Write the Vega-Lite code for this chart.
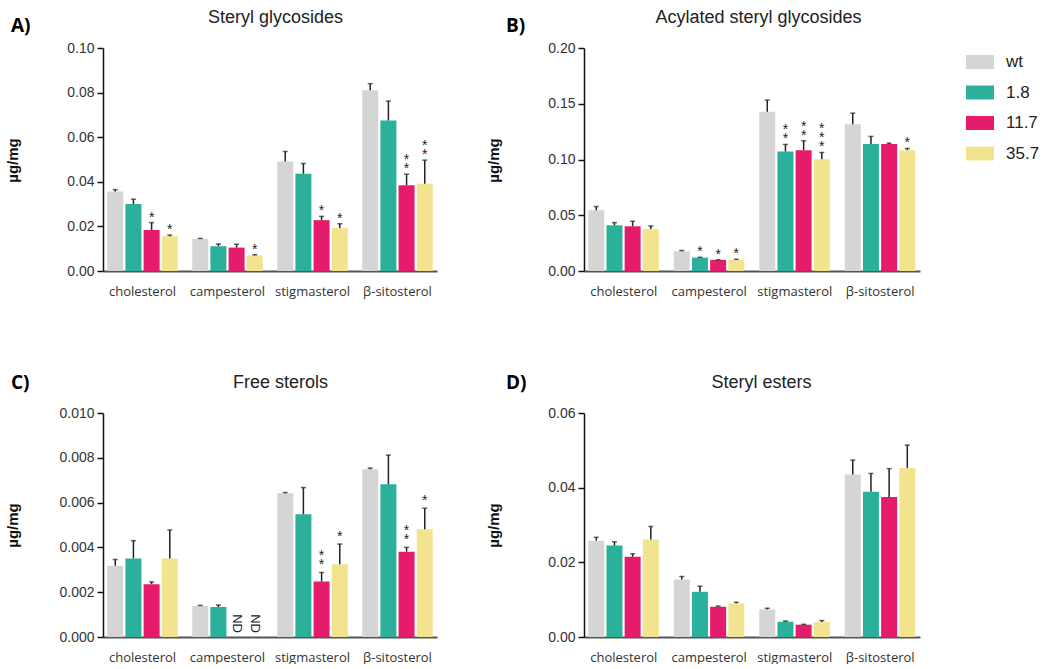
{
  "$schema": "https://vega.github.io/schema/vega-lite/v6.json",
  "background": "white",
  "padding": {"left": 5, "top": 8, "right": 5, "bottom": 0},
  "bounds": "flush",
  "columns": 2,
  "spacing": {"row": 142, "column": 147},
  "datasets": {
    "sg": [
      {"sterol": "cholesterol", "line": "wt", "mean": 0.0356, "upper": 0.0365, "stars": 0},
      {"sterol": "cholesterol", "line": "1.8", "mean": 0.0301, "upper": 0.0322, "stars": 0},
      {"sterol": "cholesterol", "line": "11.7", "mean": 0.0184, "upper": 0.0217, "stars": 1},
      {"sterol": "cholesterol", "line": "35.7", "mean": 0.0156, "upper": 0.0161, "stars": 1},
      {"sterol": "campesterol", "line": "wt", "mean": 0.0144, "upper": 0.0146, "stars": 0},
      {"sterol": "campesterol", "line": "1.8", "mean": 0.0111, "upper": 0.0121, "stars": 0},
      {"sterol": "campesterol", "line": "11.7", "mean": 0.0105, "upper": 0.0120, "stars": 0},
      {"sterol": "campesterol", "line": "35.7", "mean": 0.0070, "upper": 0.0073, "stars": 1},
      {"sterol": "stigmasterol", "line": "wt", "mean": 0.0491, "upper": 0.0536, "stars": 0},
      {"sterol": "stigmasterol", "line": "1.8", "mean": 0.0436, "upper": 0.0482, "stars": 0},
      {"sterol": "stigmasterol", "line": "11.7", "mean": 0.0228, "upper": 0.0245, "stars": 1},
      {"sterol": "stigmasterol", "line": "35.7", "mean": 0.0193, "upper": 0.0212, "stars": 1},
      {"sterol": "β-sitosterol", "line": "wt", "mean": 0.0810, "upper": 0.0840, "stars": 0},
      {"sterol": "β-sitosterol", "line": "1.8", "mean": 0.0675, "upper": 0.0762, "stars": 0},
      {"sterol": "β-sitosterol", "line": "11.7", "mean": 0.0385, "upper": 0.0434, "stars": 2},
      {"sterol": "β-sitosterol", "line": "35.7", "mean": 0.0391, "upper": 0.0497, "stars": 2}
    ],
    "asg": [
      {"sterol": "cholesterol", "line": "wt", "mean": 0.0545, "upper": 0.0578, "stars": 0},
      {"sterol": "cholesterol", "line": "1.8", "mean": 0.0410, "upper": 0.0434, "stars": 0},
      {"sterol": "cholesterol", "line": "11.7", "mean": 0.0401, "upper": 0.0446, "stars": 0},
      {"sterol": "cholesterol", "line": "35.7", "mean": 0.0377, "upper": 0.0404, "stars": 0},
      {"sterol": "campesterol", "line": "wt", "mean": 0.0177, "upper": 0.0184, "stars": 0},
      {"sterol": "campesterol", "line": "1.8", "mean": 0.0120, "upper": 0.0123, "stars": 1},
      {"sterol": "campesterol", "line": "11.7", "mean": 0.0099, "upper": 0.0101, "stars": 1},
      {"sterol": "campesterol", "line": "35.7", "mean": 0.0099, "upper": 0.0105, "stars": 1},
      {"sterol": "stigmasterol", "line": "wt", "mean": 0.1428, "upper": 0.1533, "stars": 0},
      {"sterol": "stigmasterol", "line": "1.8", "mean": 0.1072, "upper": 0.1135, "stars": 2},
      {"sterol": "stigmasterol", "line": "11.7", "mean": 0.1084, "upper": 0.1168, "stars": 2},
      {"sterol": "stigmasterol", "line": "35.7", "mean": 0.1003, "upper": 0.1063, "stars": 3},
      {"sterol": "β-sitosterol", "line": "wt", "mean": 0.1317, "upper": 0.1416, "stars": 0},
      {"sterol": "β-sitosterol", "line": "1.8", "mean": 0.1138, "upper": 0.1207, "stars": 0},
      {"sterol": "β-sitosterol", "line": "11.7", "mean": 0.1138, "upper": 0.1147, "stars": 0},
      {"sterol": "β-sitosterol", "line": "35.7", "mean": 0.1084, "upper": 0.1099, "stars": 1}
    ],
    "fs": [
      {"sterol": "cholesterol", "line": "wt", "mean": 0.00318, "upper": 0.00346, "stars": 0, "nd": ""},
      {"sterol": "cholesterol", "line": "1.8", "mean": 0.00351, "upper": 0.00430, "stars": 0, "nd": ""},
      {"sterol": "cholesterol", "line": "11.7", "mean": 0.00236, "upper": 0.00246, "stars": 0, "nd": ""},
      {"sterol": "cholesterol", "line": "35.7", "mean": 0.00351, "upper": 0.00478, "stars": 0, "nd": ""},
      {"sterol": "campesterol", "line": "wt", "mean": 0.00139, "upper": 0.00141, "stars": 0, "nd": ""},
      {"sterol": "campesterol", "line": "1.8", "mean": 0.00134, "upper": 0.00143, "stars": 0, "nd": ""},
      {"sterol": "campesterol", "line": "11.7", "mean": null, "upper": null, "stars": 0, "nd": "ND"},
      {"sterol": "campesterol", "line": "35.7", "mean": null, "upper": null, "stars": 0, "nd": "ND"},
      {"sterol": "stigmasterol", "line": "wt", "mean": 0.00642, "upper": 0.00645, "stars": 0, "nd": ""},
      {"sterol": "stigmasterol", "line": "1.8", "mean": 0.00548, "upper": 0.00667, "stars": 0, "nd": ""},
      {"sterol": "stigmasterol", "line": "11.7", "mean": 0.00248, "upper": 0.00288, "stars": 2, "nd": ""},
      {"sterol": "stigmasterol", "line": "35.7", "mean": 0.00325, "upper": 0.00415, "stars": 1, "nd": ""},
      {"sterol": "β-sitosterol", "line": "wt", "mean": 0.00749, "upper": 0.00754, "stars": 0, "nd": ""},
      {"sterol": "β-sitosterol", "line": "1.8", "mean": 0.00682, "upper": 0.00812, "stars": 0, "nd": ""},
      {"sterol": "β-sitosterol", "line": "11.7", "mean": 0.00381, "upper": 0.00400, "stars": 2, "nd": ""},
      {"sterol": "β-sitosterol", "line": "35.7", "mean": 0.00481, "upper": 0.00575, "stars": 1, "nd": ""}
    ],
    "se": [
      {"sterol": "cholesterol", "line": "wt", "mean": 0.0258, "upper": 0.0267, "stars": 0},
      {"sterol": "cholesterol", "line": "1.8", "mean": 0.0245, "upper": 0.0255, "stars": 0},
      {"sterol": "cholesterol", "line": "11.7", "mean": 0.0215, "upper": 0.0223, "stars": 0},
      {"sterol": "cholesterol", "line": "35.7", "mean": 0.0261, "upper": 0.0296, "stars": 0},
      {"sterol": "campesterol", "line": "wt", "mean": 0.0154, "upper": 0.0162, "stars": 0},
      {"sterol": "campesterol", "line": "1.8", "mean": 0.0121, "upper": 0.0136, "stars": 0},
      {"sterol": "campesterol", "line": "11.7", "mean": 0.0081, "upper": 0.0083, "stars": 0},
      {"sterol": "campesterol", "line": "35.7", "mean": 0.0090, "upper": 0.0093, "stars": 0},
      {"sterol": "stigmasterol", "line": "wt", "mean": 0.0074, "upper": 0.0077, "stars": 0},
      {"sterol": "stigmasterol", "line": "1.8", "mean": 0.0041, "upper": 0.0043, "stars": 0},
      {"sterol": "stigmasterol", "line": "11.7", "mean": 0.0033, "upper": 0.0034, "stars": 0},
      {"sterol": "stigmasterol", "line": "35.7", "mean": 0.0040, "upper": 0.0044, "stars": 0},
      {"sterol": "β-sitosterol", "line": "wt", "mean": 0.0435, "upper": 0.0474, "stars": 0},
      {"sterol": "β-sitosterol", "line": "1.8", "mean": 0.0389, "upper": 0.0438, "stars": 0},
      {"sterol": "β-sitosterol", "line": "11.7", "mean": 0.0375, "upper": 0.0451, "stars": 0},
      {"sterol": "β-sitosterol", "line": "35.7", "mean": 0.0453, "upper": 0.0514, "stars": 0}
    ]
  },
  "concat": [
    {
      "width": 334, "height": 223,
      "data": {"name": "sg"},
      "title": {"text": "A)", "dx": -92, "offset": -28},
      "encoding": {
        "x": {"field": "sterol", "type": "nominal", "sort": ["cholesterol", "campesterol", "stigmasterol", "β-sitosterol"], "scale": {"paddingInner": 0.17, "paddingOuter": 0.05}, "axis": {"title": "Steryl glycosides", "titleX": 172, "titleY": -254}},
        "xOffset": {"field": "line", "type": "nominal", "sort": ["wt", "1.8", "11.7", "35.7"], "scale": {"paddingInner": 0.12}}
      },
      "layer": [
        {"mark": {"type": "bar"}, "encoding": {"y": {"field": "mean", "type": "quantitative", "title": "µg/mg", "scale": {"domain": [0, 0.1]}, "axis": {"values": [0, 0.02, 0.04, 0.06, 0.08, 0.1], "format": ".2f"}}, "color": {"field": "line", "type": "nominal", "sort": ["wt", "1.8", "11.7", "35.7"], "scale": {"domain": ["wt", "1.8", "11.7", "35.7"], "range": ["#d5d5d5", "#2ab09b", "#e51c6c", "#f2e38f"]}, "legend": {"title": null}}}},
        {"mark": {"type": "rule", "color": "#222", "strokeWidth": 1.5}, "encoding": {"y": {"field": "mean", "type": "quantitative", "title": "µg/mg"}, "y2": {"field": "upper"}}},
        {"mark": {"type": "tick", "color": "#222", "thickness": 1.5, "size": 5}, "encoding": {"y": {"field": "upper", "type": "quantitative", "title": "µg/mg"}}},
        {"transform": [{"filter": "datum.stars >= 1"}], "mark": {"type": "text", "baseline": "bottom", "dy": 2, "fontSize": 14, "font": "Liberation Sans", "color": "#222"}, "encoding": {"y": {"field": "upper", "type": "quantitative", "title": "µg/mg"}, "text": {"value": "*"}}},
        {"transform": [{"filter": "datum.stars >= 2"}], "mark": {"type": "text", "baseline": "bottom", "dy": -7, "fontSize": 14, "font": "Liberation Sans", "color": "#222"}, "encoding": {"y": {"field": "upper", "type": "quantitative", "title": "µg/mg"}, "text": {"value": "*"}}}
      ]
    },
    {
      "width": 336, "height": 223,
      "data": {"name": "asg"},
      "title": {"text": "B)", "dx": -78, "offset": -28},
      "encoding": {
        "x": {"field": "sterol", "type": "nominal", "sort": ["cholesterol", "campesterol", "stigmasterol", "β-sitosterol"], "scale": {"paddingInner": 0.17, "paddingOuter": 0.05}, "axis": {"title": "Acylated steryl glycosides", "titleX": 174, "titleY": -254}},
        "xOffset": {"field": "line", "type": "nominal", "sort": ["wt", "1.8", "11.7", "35.7"], "scale": {"paddingInner": 0.12}}
      },
      "layer": [
        {"mark": {"type": "bar"}, "encoding": {"y": {"field": "mean", "type": "quantitative", "title": "µg/mg", "scale": {"domain": [0, 0.2]}, "axis": {"values": [0, 0.05, 0.1, 0.15, 0.2], "format": ".2f"}}, "color": {"field": "line", "type": "nominal", "sort": ["wt", "1.8", "11.7", "35.7"], "scale": {"domain": ["wt", "1.8", "11.7", "35.7"], "range": ["#d5d5d5", "#2ab09b", "#e51c6c", "#f2e38f"]}, "legend": {"title": null}}}},
        {"mark": {"type": "rule", "color": "#222", "strokeWidth": 1.5}, "encoding": {"y": {"field": "mean", "type": "quantitative", "title": "µg/mg"}, "y2": {"field": "upper"}}},
        {"mark": {"type": "tick", "color": "#222", "thickness": 1.5, "size": 5}, "encoding": {"y": {"field": "upper", "type": "quantitative", "title": "µg/mg"}}},
        {"transform": [{"filter": "datum.stars >= 1"}], "mark": {"type": "text", "baseline": "bottom", "dy": 2, "fontSize": 14, "font": "Liberation Sans", "color": "#222"}, "encoding": {"y": {"field": "upper", "type": "quantitative", "title": "µg/mg"}, "text": {"value": "*"}}},
        {"transform": [{"filter": "datum.stars >= 2"}], "mark": {"type": "text", "baseline": "bottom", "dy": -7, "fontSize": 14, "font": "Liberation Sans", "color": "#222"}, "encoding": {"y": {"field": "upper", "type": "quantitative", "title": "µg/mg"}, "text": {"value": "*"}}},
        {"transform": [{"filter": "datum.stars >= 3"}], "mark": {"type": "text", "baseline": "bottom", "dy": -16, "fontSize": 14, "font": "Liberation Sans", "color": "#222"}, "encoding": {"y": {"field": "upper", "type": "quantitative", "title": "µg/mg"}, "text": {"value": "*"}}}
      ]
    },
    {
      "width": 334, "height": 224,
      "data": {"name": "fs"},
      "title": {"text": "C)", "dx": -92, "offset": -20},
      "encoding": {
        "x": {"field": "sterol", "type": "nominal", "sort": ["cholesterol", "campesterol", "stigmasterol", "β-sitosterol"], "scale": {"paddingInner": 0.17, "paddingOuter": 0.05}, "axis": {"title": "Free sterols", "titleX": 177, "titleY": -255}},
        "xOffset": {"field": "line", "type": "nominal", "sort": ["wt", "1.8", "11.7", "35.7"], "scale": {"paddingInner": 0.12}}
      },
      "layer": [
        {"mark": {"type": "bar"}, "encoding": {"y": {"field": "mean", "type": "quantitative", "title": "µg/mg", "scale": {"domain": [0, 0.01]}, "axis": {"values": [0, 0.002, 0.004, 0.006, 0.008, 0.01], "format": ".3f"}}, "color": {"field": "line", "type": "nominal", "sort": ["wt", "1.8", "11.7", "35.7"], "scale": {"domain": ["wt", "1.8", "11.7", "35.7"], "range": ["#d5d5d5", "#2ab09b", "#e51c6c", "#f2e38f"]}, "legend": {"title": null}}}},
        {"mark": {"type": "rule", "color": "#222", "strokeWidth": 1.5}, "encoding": {"y": {"field": "mean", "type": "quantitative", "title": "µg/mg"}, "y2": {"field": "upper"}}},
        {"mark": {"type": "tick", "color": "#222", "thickness": 1.5, "size": 5}, "encoding": {"y": {"field": "upper", "type": "quantitative", "title": "µg/mg"}}},
        {"transform": [{"filter": "datum.stars >= 1"}], "mark": {"type": "text", "baseline": "bottom", "dy": 0, "fontSize": 14, "font": "Liberation Sans", "color": "#222"}, "encoding": {"y": {"field": "upper", "type": "quantitative", "title": "µg/mg"}, "text": {"value": "*"}}},
        {"transform": [{"filter": "datum.stars >= 2"}], "mark": {"type": "text", "baseline": "bottom", "dy": -9, "fontSize": 14, "font": "Liberation Sans", "color": "#222"}, "encoding": {"y": {"field": "upper", "type": "quantitative", "title": "µg/mg"}, "text": {"value": "*"}}},
        {"transform": [{"filter": "datum.nd === 'ND'"}], "mark": {"type": "text", "angle": 90, "align": "right", "baseline": "middle", "dx": -4, "fontSize": 13, "font": "Liberation Sans", "color": "#222"}, "encoding": {"y": {"datum": 0, "type": "quantitative"}, "text": {"field": "nd"}}}
      ]
    },
    {
      "width": 336, "height": 224,
      "data": {"name": "se"},
      "title": {"text": "D)", "dx": -78, "offset": -20},
      "encoding": {
        "x": {"field": "sterol", "type": "nominal", "sort": ["cholesterol", "campesterol", "stigmasterol", "β-sitosterol"], "scale": {"paddingInner": 0.17, "paddingOuter": 0.05}, "axis": {"title": "Steryl esters", "titleX": 177, "titleY": -255}},
        "xOffset": {"field": "line", "type": "nominal", "sort": ["wt", "1.8", "11.7", "35.7"], "scale": {"paddingInner": 0.12}}
      },
      "layer": [
        {"mark": {"type": "bar"}, "encoding": {"y": {"field": "mean", "type": "quantitative", "title": "µg/mg", "scale": {"domain": [0, 0.06]}, "axis": {"values": [0, 0.02, 0.04, 0.06], "format": ".2f"}}, "color": {"field": "line", "type": "nominal", "sort": ["wt", "1.8", "11.7", "35.7"], "scale": {"domain": ["wt", "1.8", "11.7", "35.7"], "range": ["#d5d5d5", "#2ab09b", "#e51c6c", "#f2e38f"]}, "legend": {"title": null}}}},
        {"mark": {"type": "rule", "color": "#222", "strokeWidth": 1.5}, "encoding": {"y": {"field": "mean", "type": "quantitative", "title": "µg/mg"}, "y2": {"field": "upper"}}},
        {"mark": {"type": "tick", "color": "#222", "thickness": 1.5, "size": 5}, "encoding": {"y": {"field": "upper", "type": "quantitative", "title": "µg/mg"}}}
      ]
    }
  ],
  "config": {
    "view": {"stroke": null},
    "font": "Liberation Sans",
    "title": {"anchor": "start", "frame": "group", "orient": "top", "baseline": "middle", "font": "Open Sans", "fontSize": 19, "fontWeight": "bold", "color": "#000"},
    "axisX": {"domainColor": "#555", "domainWidth": 2, "ticks": false, "labelFont": "Open Sans", "labelFontSize": 13, "labelColor": "#333", "labelPadding": 14, "labelAngle": 0, "titleFont": "Liberation Sans", "titleFontSize": 18, "titleFontWeight": "normal", "titleColor": "#222", "titleBaseline": "middle", "titleAlign": "center"},
    "axisY": {"domainColor": "#111", "domainWidth": 1.5, "tickColor": "#111", "tickWidth": 1.5, "tickSize": 6, "labelFont": "Liberation Sans", "labelFontSize": 14, "labelColor": "#333", "labelPadding": 3, "grid": false, "titleFont": "Liberation Sans", "titleFontSize": 15, "titleFontWeight": "bold", "titleColor": "#111", "titleX": -83, "titleY": 112},
    "legend": {"orient": "right", "offset": 46, "symbolType": "M-1,-0.5H1V0.5H-1Z", "symbolSize": 784, "symbolStrokeWidth": 0, "labelFont": "Liberation Sans", "labelFontSize": 17, "labelColor": "#222", "labelOffset": 12, "rowPadding": 8.5}
  }
}
